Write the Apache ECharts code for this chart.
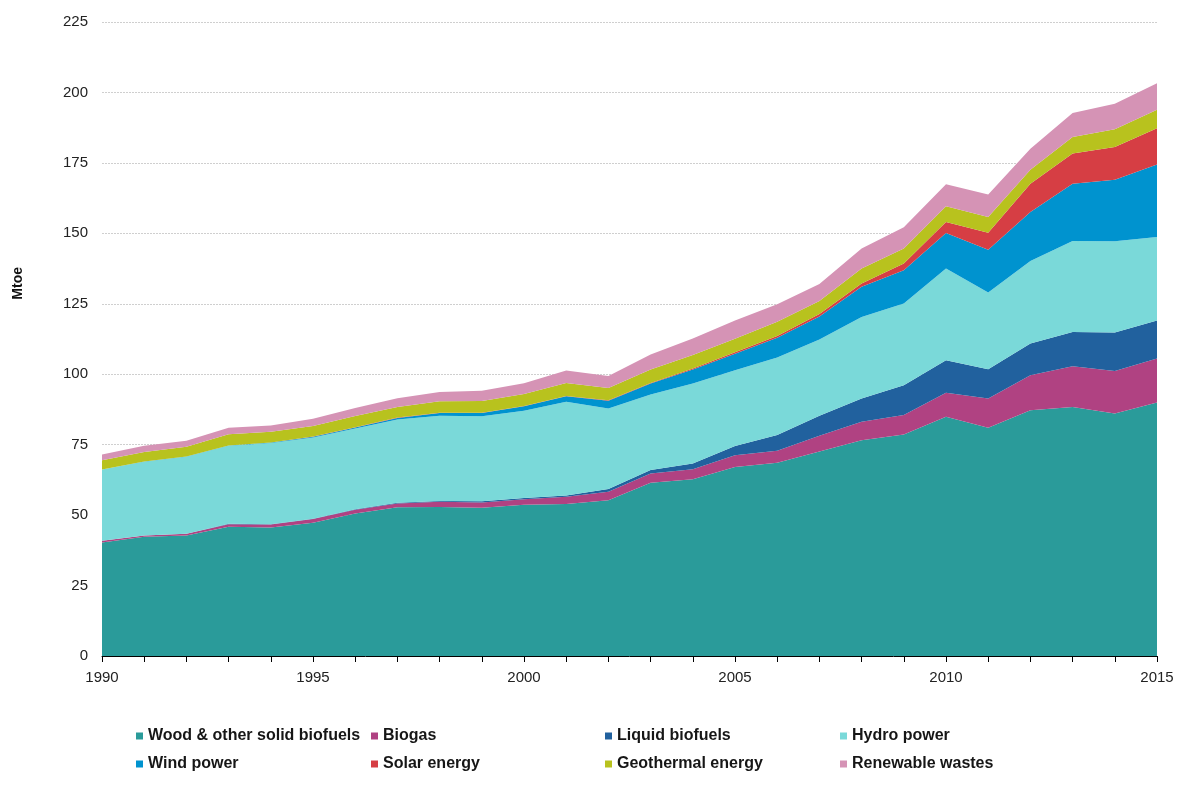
<!DOCTYPE html>
<html>
<head>
<meta charset="utf-8">
<script src="https://cdn.jsdelivr.net/npm/echarts@6/dist/echarts.min.js"></script>
<style>html,body{margin:0;padding:0;background:#fff;}#chart{width:1200px;height:785px;}</style>
</head>
<body>
<div id="chart"></div>
<script>
const years = ['1990','1991','1992','1993','1994','1995','1996','1997','1998','1999','2000','2001','2002','2003','2004','2005','2006','2007','2008','2009','2010','2011','2012','2013','2014','2015'];
const yTicks = [0,25,50,75,100,125,150,175,200,225];
const wood = [40.3,42.3,42.8,45.9,45.6,47.3,50.6,52.8,52.9,52.6,53.7,53.9,55.3,61.5,62.7,67.1,68.6,72.6,76.6,78.6,84.9,81.0,87.2,88.4,86.1,90.0];
const biogas = [0.6,0.5,0.6,0.9,1.1,1.3,1.3,1.3,1.8,1.9,1.9,2.6,3.0,3.3,3.6,4.1,4.2,5.6,6.5,6.9,8.5,10.4,12.4,14.4,15.0,15.6];
const liquid = [0.0,0.0,0.0,0.1,0.1,0.1,0.2,0.3,0.3,0.4,0.5,0.5,1.0,1.2,2.0,3.3,5.6,7.1,8.3,10.6,11.6,10.4,11.3,12.2,13.7,13.5];
const hydro = [25.3,26.1,27.3,27.7,28.8,28.8,28.6,29.5,30.3,30.2,30.9,33.2,28.5,26.8,28.4,26.9,27.5,27.0,28.9,29.0,32.5,27.2,29.3,32.3,32.4,29.6];
const wind = [0.0,0.1,0.1,0.1,0.2,0.3,0.4,0.6,0.9,1.1,1.6,2.0,2.8,3.9,5.0,5.9,7.0,8.2,10.7,11.8,12.6,15.2,17.4,20.3,21.8,25.7];
const solar = [0.0,0.0,0.0,0.0,0.0,0.1,0.1,0.1,0.1,0.1,0.1,0.1,0.2,0.2,0.3,0.5,0.7,0.9,1.2,2.4,3.9,6.0,10.0,10.7,11.6,12.9];
const geothermal = [3.3,3.4,3.5,4.0,3.8,3.7,4.0,3.8,4.1,4.2,4.3,4.6,4.3,4.8,4.8,4.8,5.0,4.6,5.3,5.3,5.6,5.6,5.0,5.9,6.3,6.6];
const waste = [2.0,2.2,2.1,2.3,2.2,2.6,2.8,3.1,3.3,3.6,3.8,4.4,4.3,5.3,5.9,6.5,6.2,6.0,7.1,7.6,7.8,8.0,7.4,8.5,9.1,9.4];

const seriesNames = ['Wood & other solid biofuels','Biogas','Liquid biofuels','Hydro power','Wind power','Solar energy','Geothermal energy','Renewable wastes'];
const seriesData = [wood, biogas, liquid, hydro, wind, solar, geothermal, waste];
const colors = ['#2a9b9a','#b04282','#21619e','#7ad9d9','#0093cf','#d63e44','#b8c21e','#d593b5'];

const legendPos = [
  [136,728],[371,728],[605,728],[840,728],
  [136,756],[371,756],[605,756],[840,756]
];

const chart = echarts.init(document.getElementById('chart'));
const font = "'Liberation Sans', Arial, sans-serif";
chart.setOption({
  animation: false,
  color: colors,
  grid: { left: 102, right: 43, top: 22, bottom: 129, containLabel: false },
  legend: seriesNames.map((n, i) => ({
    data: [n], left: legendPos[i][0], top: legendPos[i][1],
    icon: 'rect', itemWidth: 7, itemHeight: 7, padding: 0,
    textStyle: { fontFamily: font, fontSize: 16, fontWeight: 'bold', color: '#161616' }
  })),
  graphic: [{
    type: 'text', left: 11, top: 267, rotation: Math.PI / 2,
    style: { text: 'Mtoe', font: "bold 14px 'Liberation Sans', Arial, sans-serif", fill: '#111' }
  }],
  xAxis: {
    type: 'category', data: years, boundaryGap: false,
    axisLine: { lineStyle: { color: '#000', width: 1 } },
    axisTick: { interval: 0, length: 6, lineStyle: { color: '#000' } },
    axisLabel: { interval: 4, fontFamily: font, fontSize: 15, color: '#222', margin: 14 },
    splitLine: { show: false }
  },
  yAxis: {
    type: 'value', min: yTicks[0], max: yTicks[yTicks.length - 1], interval: 25,
    axisLine: { show: false }, axisTick: { show: false },
    axisLabel: { fontFamily: font, fontSize: 15, color: '#222', margin: 14 },
    splitLine: { lineStyle: { color: '#cfcfcf', type: [2, 1], width: 1 } }
  },
  series: seriesNames.map((n, i) => ({
    name: n, type: 'line', stack: 'total', data: seriesData[i],
    symbol: 'none', lineStyle: { width: 0 }, areaStyle: { color: colors[i], opacity: 1 },
    itemStyle: { color: colors[i] }
  }))
});
</script>
</body>
</html>
